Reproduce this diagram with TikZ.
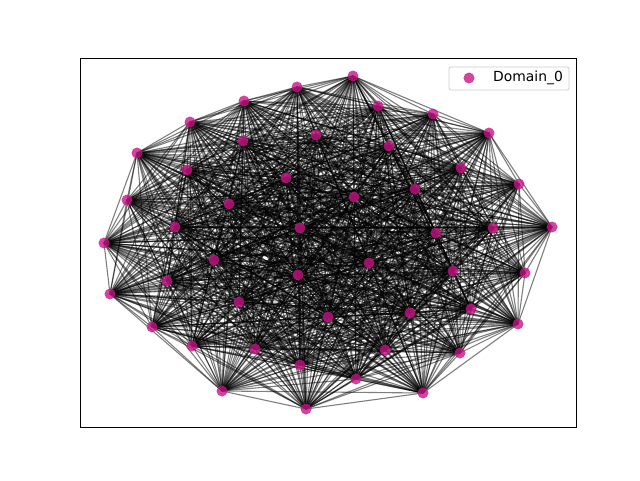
\documentclass[tikz,border=0pt]{standalone}
\usepackage{fontspec}
\setmainfont{DejaVu Sans}
\usepackage{tikz}

\begin{document}
\begin{tikzpicture}[x=1pt,y=-1pt,
    edge/.style={black,opacity=0.5,line width=1.1pt},
    vertex/.style={circle,fill={rgb,255:red,199;green,21;blue,133},fill opacity=0.8,inner sep=0pt,minimum size=11pt},
    legendbox/.style={draw={rgb,255:red,204;green,204;blue,204},fill=white,fill opacity=0.8,rounded corners=2pt,line width=0.8pt}]
    \useasboundingbox (0,0) rectangle (640,480);
    %Positions
    \foreach \px/\py [count=\k] in {353/76,378/106,433/114,489/133,519/184,552/227,525/273,518/324,
        460/353,423/393,356/379,306/409,222/391,192/346,152/327,110/294,104/243,127/200,137/153,
        190/122,244/101,297/87,316/135,389/146,461/168,415/189,354/197,286/178,243/141,187/170,
        229/204,175/227,300/228,436/233,493/228,214/260,298/275,369/263,453/271,167/281,239/302,
        328/317,410/313,471/309,255/349,300/365,385/350}
        \coordinate (p\k) at (\px,\py);
    %Edges
    \foreach \i in {1,...,46} {
        \pgfmathtruncatemacro\nxt{\i+1}
        \foreach \j in {\nxt,...,47}
            \draw[edge] (p\i) -- (p\j);
    }
    %Vertices
    \foreach \k in {1,...,47}
        \node[vertex] (n\k) at (p\k) {};
    %Frame
    \draw[line width=0.8pt] (80,58) rectangle (576,427);
    %Legend
    \node[legendbox,minimum width=120pt,minimum height=23pt] (legend) at (509,78.5) {};
    \node[vertex] (mark) at (469,78) {};
    \node[anchor=west,inner sep=0pt,font=\fontsize{13.9}{16}\selectfont] (label) at (493,78) {Domain\_0};
\end{tikzpicture}
\end{document}
